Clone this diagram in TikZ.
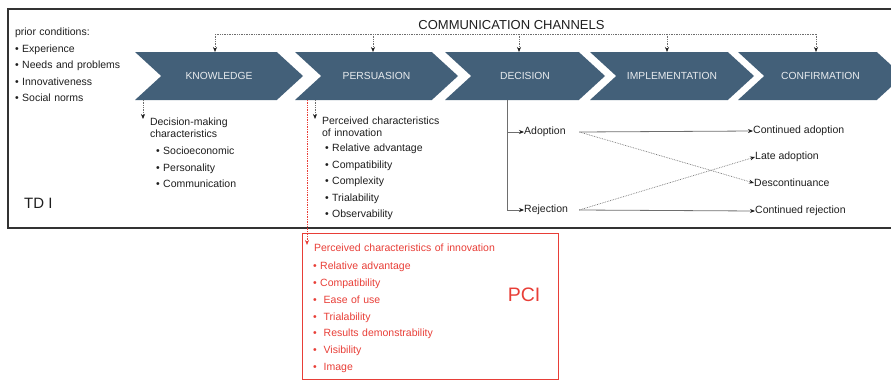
\documentclass[tikz,border=0pt]{standalone}
\usepackage{fontspec}
\setmainfont{Liberation Sans}
\usetikzlibrary{shapes.symbols,arrows.meta}

\definecolor{stageblue}{RGB}{67,96,121}
\definecolor{inkgrey}{RGB}{30,30,30}
\definecolor{wiregrey}{RGB}{110,110,110}
\definecolor{pcired}{RGB}{232,62,55}

\tikzstyle{stage} = [signal, signal to=east, signal from=west, signal pointer angle=85, minimum height=48pt, inner sep=0pt, outer sep=0pt, fill=stageblue, text=white!88!stageblue, font=\fontsize{10.3}{12}\selectfont]
\tikzstyle{txt} = [inner sep=0pt, text=inkgrey, font=\fontsize{10.5}{12}\selectfont]
\tikzstyle{listtext} = [txt, text width=120pt, align=left]
\tikzstyle{listitem} = [listtext, text height=8pt, text depth=2.5pt]
\tikzstyle{listhead} = [listtext]
\tikzstyle{pcitem} = [listitem, text width=200pt, text=pcired, node distance=16.8pt]
\tikzstyle{pciframe} = [rectangle, draw=pcired, line width=1pt, minimum width=256pt, minimum height=146pt, inner sep=0pt]
\tikzstyle{outerframe} = [draw=black!80, line width=1.2pt]
\tikzstyle{chanline} = [densely dotted, wiregrey, line width=0.7pt]
\tikzstyle{chanarrow} = [chanline, -{Stealth[length=5pt,width=4pt,inkgrey]}]
\tikzstyle{linkarrow} = [chanarrow]
\tikzstyle{redarrow} = [densely dotted, pcired, line width=0.7pt, -{Stealth[length=5pt,width=4pt,pcired]}]
\tikzstyle{splitline} = [wiregrey, line width=0.8pt, -{Stealth[length=5pt,width=4pt,inkgrey]}]
\tikzstyle{outcome} = [splitline]
\tikzstyle{switchline} = [chanarrow]

\begin{document}
\begin{tikzpicture}[x=1pt, y=-1pt, node distance=16.5pt]
  \useasboundingbox (0,0) rectangle (891,380);
  \draw [outerframe] (895,9) -- (8,9) -- (8,228) -- (895,228);

  % the five stages
  \node (knowledge) [stage, minimum width=168pt] at (219,76) {KNOWLEDGE};
  \node (persuasion) [stage, minimum width=163pt] at (376.5,76) {PERSUASION};
  \node (decision) [stage, minimum width=160pt] at (525,76) {DECISION};
  \node (implementation) [stage, minimum width=164pt] at (672,76) {IMPLEMENTATION};
  \node (confirmation) [stage, minimum width=165pt] at (820.5,76) {CONFIRMATION};

  % communication channels
  \node (channels) [txt, font=\fontsize{13}{15}\selectfont] at (511.5,25) {COMMUNICATION CHANNELS};
  \coordinate (chan) at (0,34);
  \draw [chanline] ([xshift=-4pt]knowledge.north |- chan) -- ([xshift=-4.5pt]confirmation.north |- chan);
  \foreach \s/\dx in {knowledge/-4, persuasion/-3.5, decision/-6, implementation/-5, confirmation/-4.5}
    \draw [chanarrow] ([xshift=\dx pt]\s.north |- chan) -- ([xshift=\dx pt]\s.north);

  % prior conditions
  \node (prior) [listitem] at (75,33) {prior conditions:};
  \node (experience) [listitem, below of=prior] {\textbullet\ Experience};
  \node (needs) [listitem, below of=experience] {\textbullet\ Needs and problems};
  \node (innovativeness) [listitem, below of=needs] {\textbullet\ Innovativeness};
  \node (norms) [listitem, below of=innovativeness] {\textbullet\ Social norms};

  % knowledge
  \coordinate (kdrop) at (143,119);
  \draw [linkarrow] (kdrop |- knowledge.south) -- (kdrop);
  \node (dmc) [listhead] at (210,127.5) {Decision-making\\characteristics};
  \node (socio) [listitem, below of=dmc, xshift=6pt, yshift=-8pt] {\textbullet\ Socioeconomic};
  \node (personality) [listitem, below of=socio] {\textbullet\ Personality};
  \node (communication) [listitem, below of=personality] {\textbullet\ Communication};

  % persuasion
  \coordinate (pdrop) at (315,119);
  \draw [linkarrow] (pdrop |- persuasion.south) -- (pdrop);
  \node (pci1) [listhead] at (382,126.5) {Perceived characteristics\\of innovation};
  \node (relative) [listitem, below of=pci1, xshift=3pt, yshift=-6pt] {\textbullet\ Relative advantage};
  \node (compat) [listitem, below of=relative] {\textbullet\ Compatibility};
  \node (complex) [listitem, below of=compat] {\textbullet\ Complexity};
  \node (trial) [listitem, below of=complex] {\textbullet\ Trialability};
  \node (observ) [listitem, below of=trial] {\textbullet\ Observability};

  % decision
  \node (adoption) [txt, anchor=west] at (524,132) {Adoption};
  \node (rejection) [txt, anchor=west] at (524,210) {Rejection};
  \draw [splitline] ([xshift=-18pt]decision.south) |- (adoption.west);
  \draw [splitline] ([xshift=-18pt]decision.south) |- (rejection.west);

  % confirmation outcomes
  \node (contadopt) [txt, anchor=west] at (753,131) {Continued adoption};
  \node (late) [txt, anchor=west] at (755,157) {Late adoption};
  \node (discont) [txt, anchor=west] at (754,183) {Descontinuance};
  \node (contreject) [txt, anchor=west] at (755,211) {Continued rejection};
  \draw [outcome] ([xshift=13.5pt]adoption.east) -- (contadopt.west);
  \draw [switchline] ([xshift=13.5pt]adoption.east) -- (discont.west);
  \draw [switchline] ([xshift=11pt]rejection.east) -- (late.west);
  \draw [outcome] ([xshift=11pt]rejection.east) -- (contreject.west);

  \node (td) [txt, anchor=west, font=\fontsize{15}{18}\selectfont] at (24,203) {TD I};

  % PCI box
  \node (pcibox) [pciframe] at (430,306) {};
  \coordinate (rdrop) at (307,245);
  \draw [redarrow] (rdrop |- persuasion.south) -- (rdrop);
  \node (pcihead) [pcitem] at (414,249) {Perceived characteristics of innovation};
  \node (pcirel) [pcitem, below of=pcihead, xshift=-1pt, yshift=-1.2pt] {\textbullet\ Relative advantage};
  \node (pcicomp) [pcitem, below of=pcirel] {\textbullet\ Compatibility};
  \node (pciease) [pcitem, below of=pcicomp] {\textbullet\ \ Ease of use};
  \node (pcitrial) [pcitem, below of=pciease] {\textbullet\ \ Trialability};
  \node (pciresult) [pcitem, below of=pcitrial] {\textbullet\ \ Results demonstrability};
  \node (pcivis) [pcitem, below of=pciresult] {\textbullet\ \ Visibility};
  \node (pciimage) [pcitem, below of=pcivis] {\textbullet\ \ Image};
  \node (pci) [txt, text=pcired, font=\fontsize{19.5}{22}\selectfont] at (524,295) {PCI};
\end{tikzpicture}
\end{document}
